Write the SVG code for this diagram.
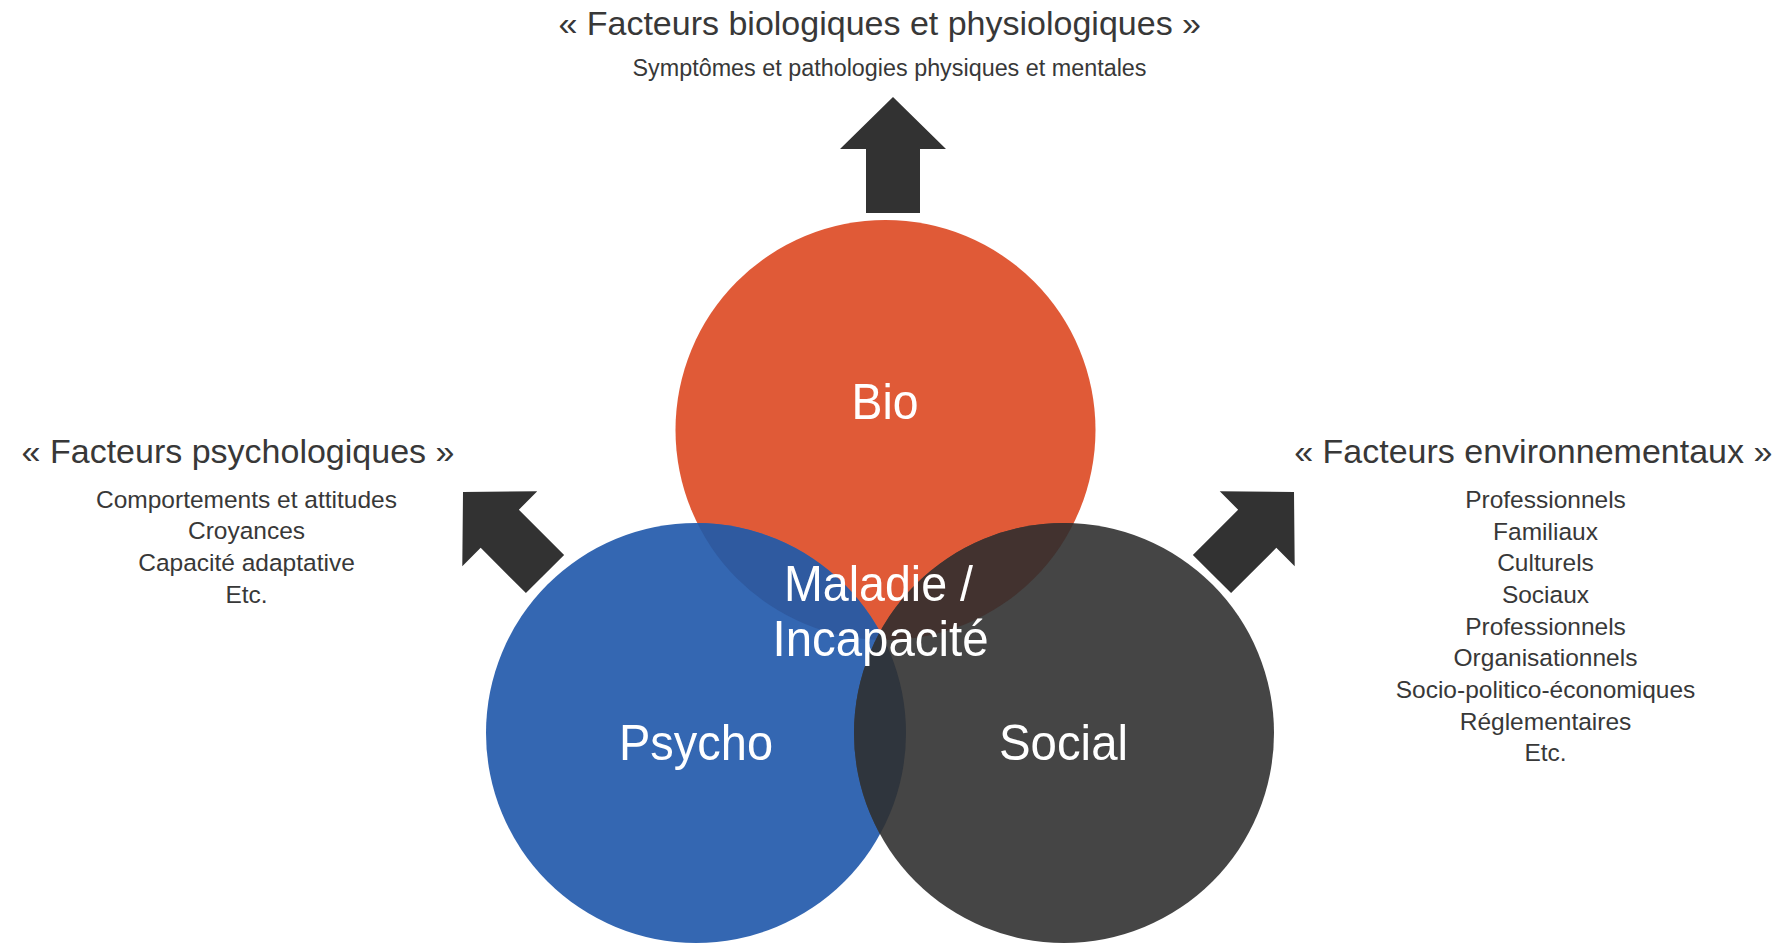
<svg xmlns="http://www.w3.org/2000/svg" width="1786" height="943" viewBox="0 0 1786 943">
  <style>
    .title { font-family: "Liberation Sans", Arial, sans-serif; font-size: 34px; fill: #383838; text-anchor: middle; }
    .body { font-family: "Liberation Sans", Arial, sans-serif; font-size: 24.5px; fill: #383838; text-anchor: middle; }
    .sub { font-family: "Liberation Sans", Arial, sans-serif; font-size: 23.5px; fill: #383838; text-anchor: middle; }
    .lbl { font-family: "Liberation Sans", Arial, sans-serif; font-size: 50px; fill: #ffffff; text-anchor: middle; }
    .arrow { fill: #323232; }
  </style>
  <defs>
    <path id="blockArrow" d="M0,0 L53,52 L27,52 L27,116 L-27,116 L-27,52 L-53,52 Z"/>
    <clipPath id="clipBio"><circle cx="885.5" cy="430" r="210"/></clipPath>
    <clipPath id="clipPsycho"><circle cx="696" cy="733" r="210"/></clipPath>
  </defs>
  <rect x="0" y="0" width="1786" height="943" fill="#ffffff"/>

  <g id="bio">
    <circle cx="885.5" cy="430" r="210" fill="#E05A37"/>
  </g>
  <g id="psycho">
    <circle cx="696" cy="733" r="210" fill="#3467B2"/>
  </g>
  <g id="social">
    <circle cx="1064" cy="733" r="210" fill="#454545"/>
  </g>
  <g id="overlaps">
    <circle cx="696" cy="733" r="210" fill="#2F5AA0" clip-path="url(#clipBio)"/>
    <circle cx="1064" cy="733" r="210" fill="#42322F" clip-path="url(#clipBio)"/>
    <circle cx="1064" cy="733" r="210" fill="#2F353D" clip-path="url(#clipPsycho)"/>
  </g>

  <g id="labels">
    <text class="lbl" x="885" y="419" textLength="67" lengthAdjust="spacingAndGlyphs">Bio</text>
    <text class="lbl" x="696" y="760" textLength="154" lengthAdjust="spacingAndGlyphs">Psycho</text>
    <text class="lbl" x="1063.5" y="760" textLength="129" lengthAdjust="spacingAndGlyphs">Social</text>
  </g>
  <g id="center">
    <text class="lbl" x="878.5" y="601" textLength="189" lengthAdjust="spacingAndGlyphs">Maladie /</text>
    <text class="lbl" x="880.5" y="656" textLength="216" lengthAdjust="spacingAndGlyphs">Incapacité</text>
  </g>

  <g id="connectors">
    <use href="#blockArrow" class="arrow" transform="translate(893,97)"/>
    <use href="#blockArrow" class="arrow" transform="translate(463,492) rotate(-45)"/>
    <use href="#blockArrow" class="arrow" transform="translate(1294,492) rotate(45)"/>
  </g>

  <g id="bio-factors">
    <text class="title" x="879.7" y="34.5">« Facteurs biologiques et physiologiques »</text>
    <text class="sub" x="889.5" y="76" textLength="514" lengthAdjust="spacingAndGlyphs">Symptômes et pathologies physiques et mentales</text>
  </g>

  <g id="psycho-factors">
    <text class="title" x="238" y="463.3">« Facteurs psychologiques »</text>
    <text class="body" x="246.5" y="507.8">Comportements et attitudes</text>
    <text class="body" x="246.5" y="539.4">Croyances</text>
    <text class="body" x="246.5" y="571">Capacité adaptative</text>
    <text class="body" x="246.5" y="602.6">Etc.</text>
  </g>

  <g id="env-factors">
    <text class="title" x="1533.3" y="463.3">« Facteurs environnementaux »</text>
    <text class="body" x="1545.5" y="507.8">Professionnels</text>
    <text class="body" x="1545.5" y="539.5">Familiaux</text>
    <text class="body" x="1545.5" y="571.2">Culturels</text>
    <text class="body" x="1545.5" y="602.9">Sociaux</text>
    <text class="body" x="1545.5" y="634.6">Professionnels</text>
    <text class="body" x="1545.5" y="666.3">Organisationnels</text>
    <text class="body" x="1545.5" y="698">Socio-politico-économiques</text>
    <text class="body" x="1545.5" y="729.7">Réglementaires</text>
    <text class="body" x="1545.5" y="761.4">Etc.</text>
  </g>
</svg>
